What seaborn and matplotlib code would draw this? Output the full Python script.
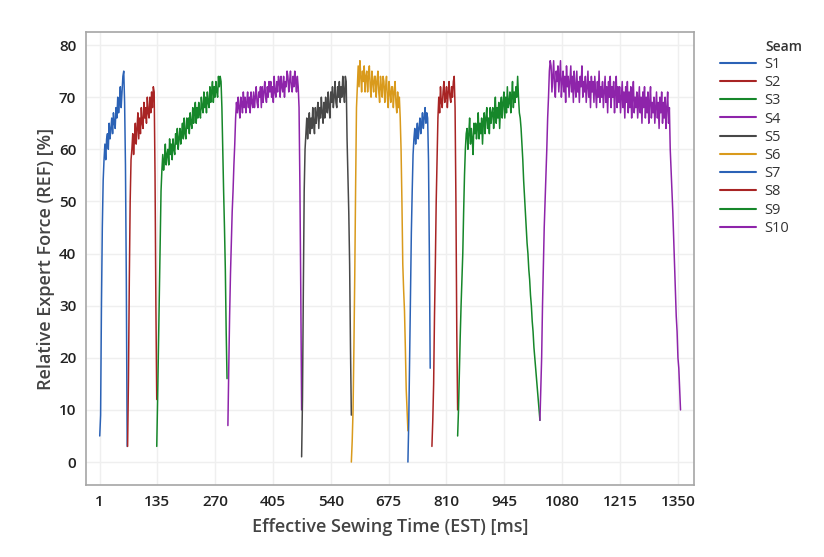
import numpy as np
import pandas as pd
import matplotlib
matplotlib.use("Agg")
import matplotlib.pyplot as plt
import seaborn as sns

# ---- data (sampled every STEP ms from each seam's start time) ----
STEP = 2
seams = ["S1", "S2", "S3", "S4", "S5", "S6", "S7", "S8", "S9", "S10"]
starts = [1, 66, 134, 300, 472, 588, 720, 776, 836, 1028]

s1 = [5, 9, 30, 45, 54, 58,
      61, 58, 62, 63, 60, 65, 62, 64, 66, 63, 67, 65, 64, 68, 66, 70, 67, 69,
      72, 68, 71, 74, 75,
      69, 57, 35, 3]
s2 = [3, 16, 35, 50, 58,
      60, 63, 59, 62, 65, 61, 64, 67, 62, 66, 63, 68, 65, 64, 69, 66, 68, 65,
      70, 67, 66, 70, 67, 71, 68, 72,
      71, 55, 30, 12]
s3 = [3, 12, 22, 32, 42, 52, 56,
      59, 56, 58, 61, 57, 59, 60, 57, 62, 59,
      61, 58, 62, 60, 59, 63, 61, 64, 60, 62,
      64, 61, 63, 65, 62, 66, 63, 62, 66, 64,
      66, 63, 67, 65, 64, 68, 65, 67, 69, 65,
      68, 66, 69, 67, 66, 70, 68, 67, 71, 68,
      70, 67, 71, 69, 68, 72, 69, 71, 73, 69,
      72, 70, 73, 71, 70, 74, 72, 74,
      73, 68, 60, 52, 45, 37, 25, 16]
s4 = [7, 18, 28, 36, 42, 48, 52, 57, 61, 66,
      69, 67, 70, 68, 66, 70, 69, 67, 71, 68,
      70, 67, 69, 71, 68, 70, 67, 71, 69, 68,
      71, 68, 70, 72, 69, 68, 71, 70, 72, 68,
      72, 69, 71, 73, 70, 69, 72, 70, 73, 71,
      73, 70, 72, 69, 74, 71, 70, 73, 71, 74,
      73, 70, 74, 72, 71, 74, 70, 73, 72, 75,
      74, 71, 73, 75, 72, 71, 74, 72, 75, 73,
      71, 74,
      72, 68, 53, 33, 10]
s5 = [1, 12, 33, 52, 60, 63,
      66, 62, 65, 67, 63, 66, 64, 68, 65, 63,
      68, 65, 67, 69, 64, 68, 66, 70, 67, 65,
      69, 66, 70, 68, 67, 71, 68, 66, 71, 69,
      72, 68, 70, 73, 69, 68, 72, 70, 73, 69,
      72, 70, 74, 71, 69, 74,
      73, 62, 55, 48, 38, 22, 9]
s6 = [0, 4, 10, 22, 36, 53, 68, 72,
      76, 72, 77, 74, 71, 75, 73, 76, 71, 74,
      75, 71, 74, 76, 72, 70, 75, 73, 71, 74,
      74, 70, 73, 75, 71, 69, 74, 72, 70, 74,
      73, 69, 72, 74, 70, 68, 73, 71, 69, 72,
      72, 68, 71, 73, 69, 67, 71, 68, 70,
      66, 60, 50, 38, 33, 29, 22, 14, 10, 6]
s7 = [0, 8, 20, 32, 44, 52, 59, 62,
      64, 61, 63, 65, 62, 64, 66, 63, 65, 67, 64, 66, 68, 65, 67,
      66, 58, 40, 18]
s8 = [3, 8, 15, 28, 38, 50, 58, 66,
      70, 67, 72, 69, 68, 71, 73, 69, 70, 72, 68, 71, 73, 70, 69, 72, 70, 73,
      74, 68, 50, 25, 10]
s9 = [5, 10, 17, 24, 30, 35, 40, 48, 55, 60, 63,
      64, 60, 63, 66, 61, 64, 62, 59, 65, 63,
      65, 62, 64, 67, 62, 65, 63, 66, 61, 65,
      67, 63, 66, 68, 64, 66, 63, 68, 65, 67,
      68, 64, 67, 70, 65, 68, 66, 69, 64, 68,
      70, 66, 69, 71, 66, 70, 67, 72, 68, 69,
      71, 67, 70, 73, 68, 71, 69, 72, 70, 74,
      70, 67, 66, 64, 61, 58, 54, 51, 48, 45, 42, 40, 37, 35, 32, 30,
      27, 25, 22, 20, 18, 16, 14, 12, 10, 8]
s10 = [8, 14, 20, 30, 38, 45, 50, 55, 60, 66, 70, 75, 77,
       76, 71, 74, 77, 72, 70, 75, 73, 76, 71,
       74, 77, 70, 73, 75, 71, 74, 69, 76, 72,
       74, 70, 73, 76, 71, 74, 69, 75, 72, 70,
       75, 71, 73, 69, 74, 72, 76, 70, 73, 71,
       74, 69, 72, 75, 70, 73, 68, 74, 71, 73,
       69, 74, 71, 68, 73, 70, 75, 69, 72, 70,
       73, 68, 71, 74, 69, 72, 67, 73, 70, 74,
       68, 72, 70, 73, 67, 71, 74, 68, 72, 69,
       72, 67, 70, 73, 68, 71, 66, 72, 69, 73,
       67, 71, 68, 72, 66, 70, 73, 67, 70, 68,
       71, 66, 69, 72, 67, 70, 65, 71, 68, 72,
       66, 70, 67, 71, 65, 69, 72, 66, 69, 67,
       70, 65, 68, 71, 66, 69, 64, 70, 67, 71,
       65, 69, 66, 70, 64, 68, 71, 65, 68,
       60, 56, 52, 48, 43, 38, 33, 28, 25, 20, 18, 14, 10]
values = [s1, s2, s3, s4, s5, s6, s7, s8, s9, s10]

x_ticks = [1, 135, 270, 405, 540, 675, 810, 945, 1080, 1215, 1350]
y_ticks = [0, 10, 20, 30, 40, 50, 60, 70, 80]

palette = ["#2b62b6", "#a82424", "#16872a", "#8e24aa", "#484848",
           "#d99a1c", "#2b62b6", "#a82424", "#16872a", "#8e24aa"]

rows = []
for name, t0, vals in zip(seams, starts, values):
    for i, v in enumerate(vals):
        rows.append((name, t0 + i * STEP, v))
df = pd.DataFrame(rows, columns=["Seam", "EST", "REF"])

# ---- style ----
sns.set_theme(style="whitegrid")
plt.rcParams["font.family"] = ["Open Sans", "DejaVu Sans"]

fig = plt.figure(figsize=(8.24, 5.57), dpi=100)
ax = fig.add_axes([0.1044, 0.1293, 0.7376, 0.8132])

sns.lineplot(data=df, x="EST", y="REF", hue="Seam", hue_order=seams,
             palette=palette, estimator=None, linewidth=1.1, ax=ax)

ax.set_xlim(-31, 1387)
ax.set_ylim(-4.4, 82.5)
ax.set_xticks(x_ticks)
ax.set_yticks(y_ticks)
ax.set_xticklabels([str(t) for t in x_ticks], fontsize=11, fontweight="semibold", color="#222222")
ax.set_yticklabels([str(t) for t in y_ticks], fontsize=11, fontweight="semibold", color="#222222")
ax.grid(True, color="#efefef", linewidth=1.0)
for sp in ax.spines.values():
    sp.set_color("#a6a6a6")
    sp.set_linewidth(1.2)
ax.tick_params(axis="both", direction="out", length=4, width=1, color="#888888", pad=3)
ax.set_xlabel("Effective Sewing Time (EST) [ms]", fontsize=13, fontweight="semibold",
              color="#444444", labelpad=7)
ax.set_ylabel("Relative Expert Force (REF) [%]", fontsize=13, fontweight="semibold",
              color="#444444", labelpad=3)

leg = ax.legend(loc="upper left", bbox_to_anchor=(1.0428, 0.945), frameon=False,
                fontsize=10.5, borderpad=0, borderaxespad=0,
                handlelength=2.5, handletextpad=0.55, labelspacing=0.22)
for txt in leg.get_texts():
    txt.set_color("#333333")
for ln in leg.get_lines():
    ln.set_linewidth(1.5)
fig.text(765 / 824, 1 - 47 / 557, "Seam", fontsize=10, fontweight="semibold",
         color="#333333", ha="left", va="center")

fig.savefig("out.png", dpi=100, facecolor="white")
